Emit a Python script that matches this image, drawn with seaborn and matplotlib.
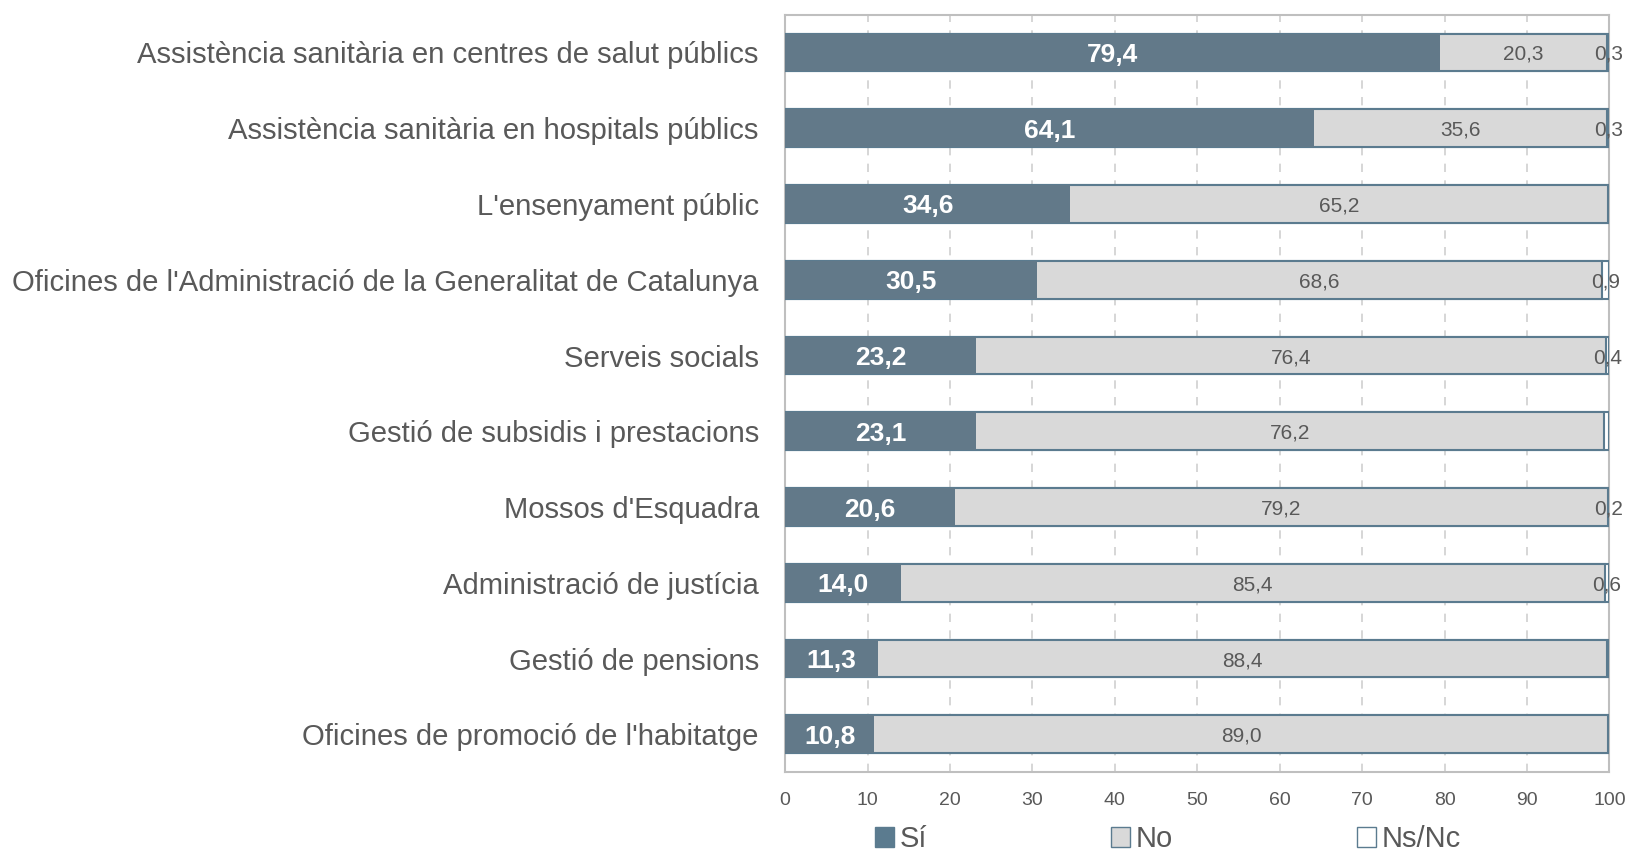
import matplotlib
matplotlib.use("Agg")
import matplotlib.pyplot as plt
import matplotlib.patches as mpatches
import pandas as pd
import seaborn as sns

# Dades
categories = [
    "Assistència sanitària en centres de salut públics",
    "Assistència sanitària en hospitals públics",
    "L'ensenyament públic",
    "Oficines de l'Administració de la Generalitat de Catalunya",
    "Serveis socials",
    "Gestió de subsidis i prestacions",
    "Mossos d'Esquadra",
    "Administració de justícia",
    "Gestió de pensions",
    "Oficines de promoció de l'habitatge",
]
si = [79.4, 64.1, 34.6, 30.5, 23.2, 23.1, 20.6, 14.0, 11.3, 10.8]
no = [20.3, 35.6, 65.2, 68.6, 76.4, 76.2, 79.2, 85.4, 88.4, 89.0]
ns = [0.3, 0.3, 0.2, 0.9, 0.4, 0.7, 0.2, 0.6, 0.3, 0.2]
ns_labels = ["0,3", "0,3", "", "0,9", "0,4", "", "0,2", "0,6", "", ""]
x_ticks = [0, 10, 20, 30, 40, 50, 60, 70, 80, 90, 100]

df = pd.DataFrame({"cat": categories, "si": si, "no": no, "ns": ns})
df["si_no"] = df["si"] + df["no"]
df["total"] = df["si_no"] + df["ns"]

blue = "#5b7b8f"
grey = "#d9d9d9"
text_col = "#595959"
line_col = "#bfbfbf"

sns.set_style("white")
plt.rcParams["font.family"] = ["Liberation Sans", "DejaVu Sans"]

fig = plt.figure(figsize=(16.29, 8.58), dpi=100)
ax = fig.add_axes([0.482, 0.100, 0.506, 0.883])

# Barres apilades: primer el total, després Sí+No, després Sí
sns.barplot(data=df, y="cat", x="total", orient="h", color="white",
            edgecolor=blue, linewidth=1.5, width=0.5, ax=ax, zorder=3)
sns.barplot(data=df, y="cat", x="si_no", orient="h", color=grey,
            edgecolor=blue, linewidth=1.5, width=0.5, ax=ax, zorder=3)
sns.barplot(data=df, y="cat", x="si", orient="h", color=blue,
            edgecolor=blue, linewidth=0, width=0.5, ax=ax, zorder=3)

# Etiquetes
for i, row in df.iterrows():
    ax.text(row["si"] / 2, i, f"{row['si']:.1f}".replace(".", ","),
            ha="center", va="center_baseline", color="white", fontsize=19,
            fontweight="bold", zorder=5)
    ax.text(row["si"] + row["no"] / 2, i, f"{row['no']:.1f}".replace(".", ","),
            ha="center", va="center_baseline", color=text_col, fontsize=15, zorder=5)
    if ns_labels[i]:
        ax.text(row["si_no"] + row["ns"] / 2, i, ns_labels[i],
                ha="center", va="center_baseline", color=text_col, fontsize=15,
                zorder=5, clip_on=False)

ax.set_xlim(0, 100)
ax.set_ylim(len(categories) - 0.5, -0.5)
ax.set_xticks(x_ticks)
ax.set_xticklabels([str(t) for t in x_ticks])
ax.set_xlabel("")
ax.set_ylabel("")

ax.xaxis.grid(True, linestyle=(0, (5, 5)), color="#d0d0d0", linewidth=1.2, zorder=0)
ax.set_axisbelow(True)

for side in ["left", "top", "bottom", "right"]:
    ax.spines[side].set_visible(True)
    ax.spines[side].set_color(line_col)
    ax.spines[side].set_linewidth(1.5)

ax.tick_params(axis="x", length=0, pad=14, labelsize=14, labelcolor=text_col)
ax.tick_params(axis="y", which="major", length=0, pad=19, labelsize=21.1,
               labelcolor=text_col)
ax.set_yticks([i + 0.5 for i in range(-1, len(categories))], minor=True)
ax.tick_params(axis="y", which="minor", length=8, width=1.5, color=line_col,
               direction="out")

# Llegenda
handles = [
    mpatches.Patch(facecolor=blue, edgecolor=blue, label="Sí"),
    mpatches.Patch(facecolor=grey, edgecolor=blue, label="No"),
    mpatches.Patch(facecolor="white", edgecolor=blue, label="Ns/Nc"),
]
leg = fig.legend(handles=handles, loc="center", bbox_to_anchor=(0.717, 0.022),
                 ncol=3, frameon=False, fontsize=21, handlelength=0.65,
                 handleheight=0.65, handletextpad=0.2, columnspacing=6.3,
                 borderpad=0)
for t in leg.get_texts():
    t.set_color(text_col)

fig.savefig("out.png", dpi=100)
